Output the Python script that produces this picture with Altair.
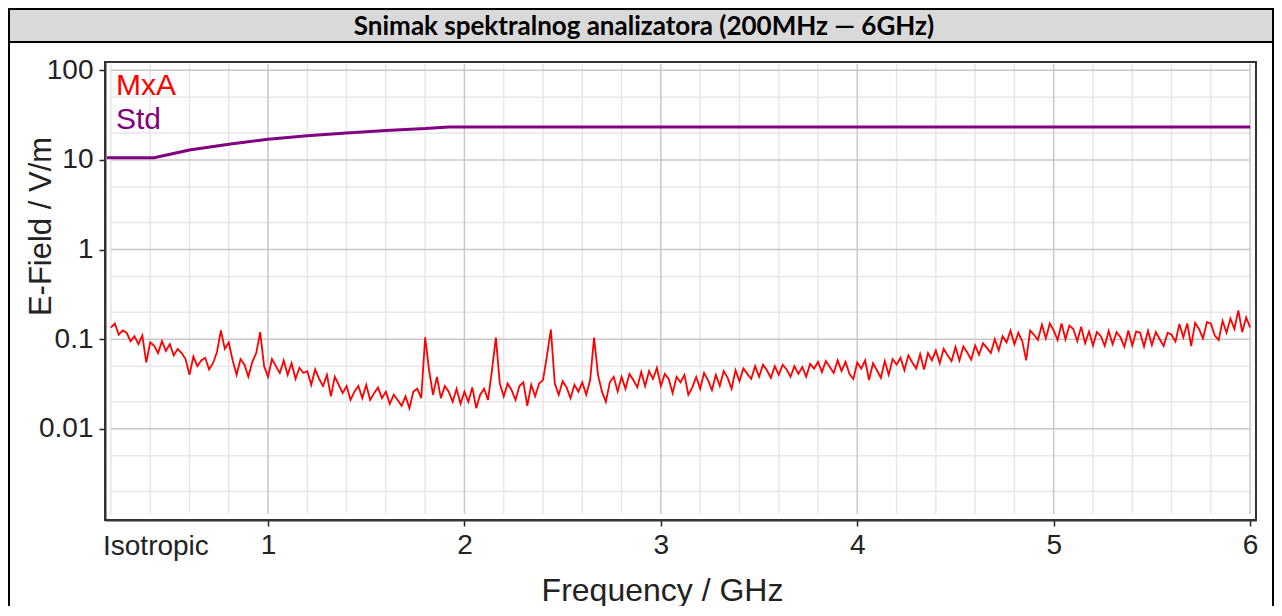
import altair as alt
import pandas as pd

# ---------------- data ----------------
title_text = "Snimak spektralnog analizatora (200MHz \u2014 6GHz)"

# MxA trace: one value every 0.02 GHz starting at 0.20 GHz (V/m)
mxa_start_ghz = 0.2
mxa_step_ghz = 0.02
mxa_values = [
    0.135, 0.150, 0.112, 0.125, 0.118, 0.095, 0.108, 0.088, 0.110, 0.055,  # 0.20-0.38
    0.092, 0.085, 0.070, 0.095, 0.074, 0.088, 0.066, 0.078, 0.070, 0.060,  # 0.40-0.58
    0.040, 0.064, 0.050, 0.058, 0.062, 0.046, 0.054, 0.072, 0.125, 0.078,  # 0.60-0.78
    0.092, 0.058, 0.040, 0.060, 0.052, 0.038, 0.056, 0.070, 0.120, 0.050,  # 0.80-0.98
    0.038, 0.060, 0.050, 0.042, 0.058, 0.040, 0.054, 0.036, 0.048, 0.042,  # 1.00-1.18
    0.044, 0.031, 0.046, 0.036, 0.030, 0.040, 0.023, 0.038, 0.031, 0.025,  # 1.20-1.38
    0.030, 0.021, 0.026, 0.030, 0.022, 0.031, 0.021, 0.025, 0.029, 0.022,  # 1.40-1.58
    0.026, 0.019, 0.024, 0.021, 0.018, 0.023, 0.017, 0.026, 0.028, 0.022,  # 1.60-1.78
    0.105, 0.045, 0.024, 0.038, 0.022, 0.030, 0.026, 0.020, 0.028, 0.019,  # 1.80-1.98
    0.026, 0.020, 0.029, 0.017, 0.024, 0.028, 0.021, 0.045, 0.104, 0.032,  # 2.00-2.18
    0.023, 0.032, 0.027, 0.021, 0.030, 0.033, 0.018, 0.031, 0.023, 0.032,  # 2.20-2.38
    0.035, 0.065, 0.128, 0.032, 0.024, 0.034, 0.029, 0.022, 0.031, 0.026,  # 2.40-2.58
    0.033, 0.024, 0.035, 0.104, 0.040, 0.026, 0.020, 0.033, 0.038, 0.026,  # 2.60-2.78
    0.038, 0.028, 0.041, 0.035, 0.029, 0.043, 0.030, 0.044, 0.036, 0.048,  # 2.80-2.98
    0.030, 0.041, 0.036, 0.025, 0.038, 0.033, 0.040, 0.024, 0.029, 0.038,  # 3.00-3.18
    0.028, 0.042, 0.035, 0.027, 0.040, 0.030, 0.044, 0.037, 0.028, 0.045,  # 3.20-3.38
    0.034, 0.047, 0.041, 0.036, 0.050, 0.038, 0.052, 0.045, 0.037, 0.050,  # 3.40-3.58
    0.040, 0.052, 0.046, 0.038, 0.050, 0.041, 0.049, 0.038, 0.053, 0.047,  # 3.60-3.78
    0.056, 0.043, 0.057, 0.049, 0.042, 0.058, 0.044, 0.056, 0.041, 0.036,  # 3.80-3.98
    0.055, 0.047, 0.058, 0.035, 0.054, 0.045, 0.037, 0.057, 0.040, 0.060,  # 4.00-4.18
    0.052, 0.062, 0.045, 0.066, 0.055, 0.047, 0.068, 0.046, 0.070, 0.058,  # 4.20-4.38
    0.075, 0.054, 0.078, 0.066, 0.057, 0.082, 0.058, 0.083, 0.071, 0.059,  # 4.40-4.58
    0.085, 0.067, 0.090, 0.080, 0.070, 0.100, 0.075, 0.108, 0.092, 0.125,  # 4.60-4.78
    0.088, 0.118, 0.095, 0.058, 0.125, 0.112, 0.098, 0.145, 0.102, 0.150,  # 4.80-4.98
    0.125, 0.098, 0.150, 0.100, 0.142, 0.130, 0.095, 0.138, 0.090, 0.122,  # 5.00-5.18
    0.085, 0.120, 0.108, 0.084, 0.124, 0.088, 0.120, 0.105, 0.082, 0.125,  # 5.20-5.38
    0.085, 0.122, 0.118, 0.083, 0.124, 0.086, 0.120, 0.100, 0.084, 0.118,  # 5.40-5.58
    0.112, 0.094, 0.148, 0.105, 0.150, 0.084, 0.152, 0.130, 0.102, 0.155,  # 5.60-5.78
    0.150, 0.110, 0.098, 0.160, 0.118, 0.170, 0.130, 0.210, 0.120, 0.175,  # 5.80-5.98
    0.135,                                                                 # 6.00
]

# Std (reference level) line
std_freq = [0.18, 0.42, 0.6, 0.8, 1.0, 1.2, 1.4, 1.6, 1.8, 1.92, 6.0]
std_values = [10.6, 10.6, 12.9, 15.0, 17.0, 18.6, 20.0, 21.3, 22.4, 23.4, 23.4]

# tick / grid values
x_major = [1, 2, 3, 4, 5, 6]
x_minor = [0.2, 0.4, 0.6, 0.8, 1.2, 1.4, 1.6, 1.8, 2.2, 2.4, 2.6, 2.8,
           3.2, 3.4, 3.6, 3.8, 4.2, 4.4, 4.6, 4.8, 5.2, 5.4, 5.6, 5.8]
y_major = [0.01, 0.1, 1, 10, 100]
y_minor = [0.002, 0.005, 0.02, 0.05, 0.2, 0.5, 2, 5, 20, 50]

# ---------------- tables ----------------
mxa_df = pd.DataFrame({
    "f": [round(mxa_start_ghz + mxa_step_ghz * i, 2) for i in range(len(mxa_values))],
    "v": mxa_values,
})
std_df = pd.DataFrame({"f": std_freq, "v": std_values})
dummy = pd.DataFrame({"a": [0]})

# ---------------- layout ----------------
W, H = 1151, 458
PADL, PADT, PADR, PADB = 97, 54, 18, 86
FONT = "Liberation Sans"
TXT = "#222222"

x_scale = alt.Scale(domain=[0.17, 6.03], nice=False, zero=False)
y_scale = alt.Scale(type="log", domain=[0.00096, 124], nice=False)

minor_col = "#e9e5e9"
major_col = "#c8c8c8"

x_axis = alt.Axis(values=x_major, format="d", title="Frequency / GHz", grid=False,
                  labelFont=FONT, labelFontSize=28, labelColor=TXT, labelPadding=5,
                  tickColor=TXT, tickWidth=1.5, tickSize=6,
                  titleFont=FONT, titleFontSize=32, titleFontWeight="normal", titleColor=TXT,
                  titleX=557, titleY=80, titleAlign="center", titleBaseline="alphabetic")
y_axis = alt.Axis(values=y_major, format="~g", title="E-Field / V/m", grid=False,
                  labelFont=FONT, labelFontSize=28, labelColor=TXT, labelPadding=6,
                  tickColor=TXT, tickWidth=1.5, tickSize=6,
                  titleFont=FONT, titleFontSize=31, titleFontWeight="normal", titleColor=TXT,
                  titleAngle=270, titleX=-55, titleY=164, titleAlign="center",
                  titleBaseline="alphabetic")

X = alt.X("f:Q", scale=x_scale, axis=x_axis)
Y = alt.Y("v:Q", scale=y_scale, axis=y_axis)

vminor = alt.Chart(pd.DataFrame({"f": x_minor})).mark_rule(color=minor_col, strokeWidth=1.5).encode(
    x=X, y=alt.value(2), y2=alt.value(H - 6))
hminor = alt.Chart(pd.DataFrame({"v": y_minor})).mark_rule(color=minor_col, strokeWidth=1.5).encode(
    y=Y, x=alt.value(6), x2=alt.value(W - 6))
vmajor = alt.Chart(pd.DataFrame({"f": x_major})).mark_rule(color=major_col, strokeWidth=1.5).encode(
    x=X, y=alt.value(2), y2=alt.value(H - 6))
hmajor = alt.Chart(pd.DataFrame({"v": y_major})).mark_rule(color=major_col, strokeWidth=1.5).encode(
    y=Y, x=alt.value(6), x2=alt.value(W - 6))

std = alt.Chart(std_df).mark_line(color="#800080", strokeWidth=3).encode(x=X, y=Y)
mxa = alt.Chart(mxa_df).mark_line(color="#ff0000", strokeWidth=1.8).encode(x=X, y=Y)

band = alt.Chart(dummy).mark_rect(color="#d9d9d9").encode(
    x=alt.value(-PADL), x2=alt.value(W + PADR), y=alt.value(-PADT), y2=alt.value(-20))
band_line = alt.Chart(dummy).mark_rule(color="black", strokeWidth=2).encode(
    x=alt.value(-PADL), x2=alt.value(W + PADR), y=alt.value(-20))
border_l = alt.Chart(dummy).mark_rule(color="black", strokeWidth=2).encode(
    x=alt.value(-PADL + 1), y=alt.value(-PADT), y2=alt.value(H + PADB))
border_r = alt.Chart(dummy).mark_rule(color="black", strokeWidth=2).encode(
    x=alt.value(W + PADR - 1), y=alt.value(-PADT), y2=alt.value(H + PADB))
border_t = alt.Chart(dummy).mark_rule(color="black", strokeWidth=2).encode(
    x=alt.value(-PADL), x2=alt.value(W + PADR), y=alt.value(-PADT + 1))

title = alt.Chart(dummy).mark_text(font="Lato", fontSize=26, fontWeight="bold", color="black",
                                   align="center", baseline="middle").encode(
    x=alt.value(539), y=alt.value(-35), text=alt.value(title_text))
leg_mxa = alt.Chart(dummy).mark_text(font=FONT, fontSize=30, color="#ff0000",
                                     align="left", baseline="alphabetic").encode(
    x=alt.value(11), y=alt.value(33), text=alt.value("MxA"))
leg_std = alt.Chart(dummy).mark_text(font=FONT, fontSize=30, color="#800080",
                                     align="left", baseline="alphabetic").encode(
    x=alt.value(11), y=alt.value(67), text=alt.value("Std"))
iso = alt.Chart(dummy).mark_text(font=FONT, fontSize=28, color=TXT,
                                 align="left", baseline="alphabetic").encode(
    x=alt.value(-2), y=alt.value(H + 35), text=alt.value("Isotropic"))

chart = alt.layer(
    band, band_line, border_l, border_r, border_t,
    vminor, hminor, vmajor, hmajor,
    std, mxa,
    title, leg_mxa, leg_std, iso,
).properties(
    width=W, height=H,
    padding={"left": PADL, "top": PADT, "right": PADR, "bottom": PADB},
    autosize=alt.AutoSizeParams(type="none"),
    background="white",
).configure_view(
    stroke="#333333", strokeWidth=2,
).configure_axis(
    domainColor="#333333", domainWidth=2,
)

chart.save("out.html", embed_options={"renderer": "svg", "actions": False})
